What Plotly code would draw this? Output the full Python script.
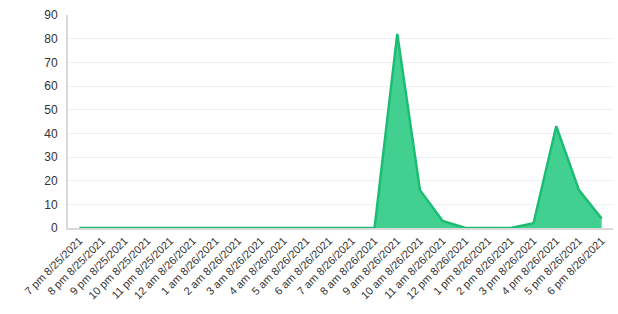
import plotly.graph_objects as go

categories = ["7 pm 8/25/2021", "8 pm 8/25/2021", "9 pm 8/25/2021", "10 pm 8/25/2021",
              "11 pm 8/25/2021", "12 am 8/26/2021", "1 am 8/26/2021", "2 am 8/26/2021",
              "3 am 8/26/2021", "4 am 8/26/2021", "5 am 8/26/2021", "6 am 8/26/2021",
              "7 am 8/26/2021", "8 am 8/26/2021", "9 am 8/26/2021", "10 am 8/26/2021",
              "11 am 8/26/2021", "12 pm 8/26/2021", "1 pm 8/26/2021", "2 pm 8/26/2021",
              "3 pm 8/26/2021", "4 pm 8/26/2021", "5 pm 8/26/2021", "6 pm 8/26/2021"]
values = [0, 0, 0, 0, 0, 0, 0, 0, 0, 0, 0, 0, 0, 0, 82, 16, 3, 0, 0, 0, 2, 43, 16, 4]
y_ticks = [0, 10, 20, 30, 40, 50, 60, 70, 80, 90]

fig = go.Figure(go.Scatter(
    x=categories, y=values, mode="lines", fill="tozeroy",
    line=dict(color="#1bbd72", width=2.5),
    fillcolor="rgba(62,207,142,0.98)",
))
fig.update_layout(
    width=618, height=314,
    margin=dict(l=68, r=5, t=15, b=86),
    paper_bgcolor="white", plot_bgcolor="white",
    showlegend=False,
    font=dict(family="Liberation Sans, Arial, sans-serif", size=12, color="#333"),
)
fig.update_xaxes(
    type="category", range=[-0.5, 23.5], tickangle=-45,
    showline=True, linecolor="#d9d9d9", linewidth=2, showgrid=False,
    ticks="", tickfont=dict(size=11),
)
fig.update_yaxes(
    range=[0, 90], tickvals=y_ticks, showgrid=True, gridcolor="#efefef",
    showline=True, linecolor="#d9d9d9", linewidth=2, zeroline=False,
    ticks="", tickfont=dict(size=12), ticklabelstandoff=6,
)
fig.write_html("out.html")
